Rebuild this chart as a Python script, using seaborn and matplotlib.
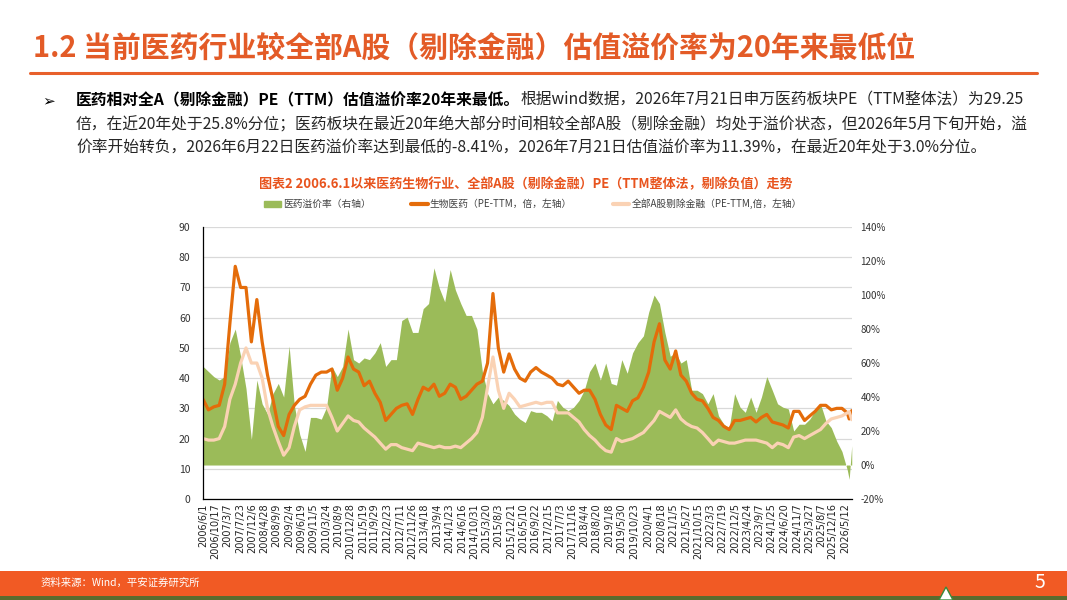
import pandas as pd
import seaborn as sns
import matplotlib.pyplot as plt
from matplotlib.lines import Line2D
from matplotlib.patches import Patch, Rectangle, Polygon
from matplotlib.ticker import FuncFormatter

sns.set_style("white")
plt.rcParams['font.family'] = ['Noto Sans CJK SC', 'DejaVu Sans']
plt.rcParams['axes.unicode_minus'] = False

# sample dates: every two months from 2006/6/1, plus the last two trading days mentioned in the text
dates = list(pd.date_range('2006-06-01', periods=121, freq='2MS')) + \
    [pd.Timestamp('2026-06-22'), pd.Timestamp('2026-07-21')]

# 生物医药 PE-TTM (left axis)
bio_pe = [33, 29.5, 30.5, 31, 38, 58, 77, 70, 70, 52,
          66, 52, 41, 33, 24, 21, 28, 31, 33, 34,
          38, 41, 42, 42, 43, 36, 40, 47, 43, 42,
          37.5, 39, 35, 32, 26, 28, 30, 31, 31.5, 28,
          33, 37, 36, 38, 34, 35, 38, 37, 33, 34,
          36, 38, 39, 45, 68, 50, 42, 48, 43, 40,
          39, 42, 43.5, 42, 41, 40, 38, 37.5, 39, 37,
          35, 36, 36, 33, 28, 24.5, 23, 31, 30, 29,
          32.5, 33.5, 37, 42, 52, 58, 46, 43, 49, 41,
          39, 35, 33, 32.5, 30, 27, 26, 24, 23, 26,
          26, 26.5, 27, 25.5, 27, 28, 25.5, 25, 24.5, 23.5,
          29, 29, 26, 27.5, 29, 31, 31, 29.5, 30, 30, 28.5,
          26.5, 29.25]

# 全部A股剔除金融 PE-TTM (left axis)
alla_pe = [20, 19.5, 19.5, 20, 24, 33, 38, 45, 50, 45,
           45, 40, 30, 24, 19, 14.5, 17, 24, 29.5, 30.5,
           31, 31, 31, 31, 27, 22.5, 25, 27.5, 26, 25.5,
           23.5, 22, 20.5, 18.5, 16.5, 18, 18, 17, 16.5, 16,
           18.5, 18, 17.5, 17, 17.5, 17, 17, 17.5, 17, 18.5,
           20, 22, 27, 37, 47, 36, 30, 35, 33, 30.5,
           31, 31.5, 32, 31.5, 32, 32, 28.5, 28.5, 28.5, 27,
           25.5, 23, 21, 19.5, 17.5, 16, 15.5, 20, 19, 19.5,
           20, 21, 22, 24, 26, 29, 28, 27, 29.5, 26.5,
           25, 24, 23.5, 22, 20, 18, 19.5, 19, 18.5, 18.5,
           19, 19.5, 19.5, 19.5, 19, 18.5, 17, 18.5, 18, 17,
           20.5, 21, 20, 21, 22, 23, 25, 26.5, 27, 27.5, 28.5,
           28.9, 26.26]

# 医药溢价率 % (right axis)
premium = [58, 55, 52, 50, 52, 72, 80, 64, 45, 15,
           50, 36, 30, 42, 48, 40, 70, 35, 18, 8,
           28, 28, 27, 34, 58, 52, 58, 80, 62, 60,
           63, 62, 66, 72, 58, 62, 62, 85, 87, 78,
           78, 92, 95, 116, 104, 96, 115, 103, 95, 88,
           88, 80, 55, 42, 36, 40, 38, 35, 30, 27,
           25, 32, 31, 31, 29, 26, 38, 34, 32, 34,
           38, 44, 55, 60, 50, 60, 48, 47, 62, 54,
           66, 72, 76, 90, 100, 95, 78, 64, 66, 60,
           62, 44, 44, 42, 36, 42, 29, 24, 22, 42,
           34, 31, 40, 31, 40, 52, 44, 36, 34, 33,
           20, 24, 24, 27, 32, 36, 26, 22, 14, 8, -3,
           -8.41, 11.39]

tick_labels = ['2006/6/1', '2006/10/17', '2007/3/7', '2007/7/23', '2007/12/6', '2008/4/28',
               '2008/9/9', '2009/2/4', '2009/6/19', '2009/11/5', '2010/3/24', '2010/8/9',
               '2010/12/28', '2011/5/19', '2011/9/29', '2012/2/23', '2012/7/11', '2012/11/26',
               '2013/4/18', '2013/9/4', '2014/1/23', '2014/6/16', '2014/10/31', '2015/3/20',
               '2015/8/3', '2015/12/21', '2016/5/10', '2016/9/22', '2017/2/15', '2017/7/3',
               '2017/11/16', '2018/4/4', '2018/8/20', '2019/1/8', '2019/5/30', '2019/10/23',
               '2020/4/1', '2020/8/18', '2021/1/5', '2021/5/27', '2021/10/15', '2022/3/3',
               '2022/7/19', '2022/12/5', '2023/4/24', '2023/9/7', '2024/1/25', '2024/6/20',
               '2024/11/7', '2025/3/27', '2025/8/7', '2025/12/16', '2026/5/12']

df = pd.DataFrame({'date': dates, 'bio': bio_pe, 'alla': alla_pe, 'prem': premium})

GREEN = '#9BBB59'
ORANGE = '#E46C0A'
PEACH = '#FAD2B4'
TITLE_C = '#E35B27'

fig = plt.figure(figsize=(10.67, 6), dpi=100)
ax = fig.add_axes([0.1903, 0.1683, 0.6082, 0.4533])
ax2 = ax.twinx()
ax3 = ax.twinx()

# left axis: grid + labels
ax.set_ylim(0, 90)
ax.set_yticks(range(0, 91, 10))
ax.grid(axis='y', color='#D9D9D9', lw=0.9)
ax.grid(axis='x', visible=False)
for s in ['top', 'right', 'left']:
    ax.spines[s].set_visible(False)
ax.spines['bottom'].set_color('black')
ax.spines['bottom'].set_linewidth(0.9)
ax.tick_params(axis='y', length=0, labelsize=7.5, pad=9, labelcolor='#333333')
ax.set_xticks(pd.to_datetime(tick_labels, format='%Y/%m/%d'))
ax.set_xticklabels(tick_labels, rotation=90, fontsize=7, family='DejaVu Sans', color='#222222')
ax.tick_params(axis='x', direction='in', length=3, width=0.8, color='black', pad=3)
ax.set_xlim(pd.Timestamp('2006-06-01'), pd.Timestamp('2026-07-24'))
ax.set_xlabel('')
ax.set_ylabel('')

# right axis: premium area
ax2.fill_between(df['date'], 0, df['prem'], color=GREEN, lw=0)
ax2.set_ylim(-20, 140)
ax2.set_yticks(range(-20, 141, 20))
ax2.yaxis.set_major_formatter(FuncFormatter(lambda v, p: f'{v:.0f}%'))
ax2.tick_params(axis='y', length=0, labelsize=7, pad=6, labelcolor='#333333')
for s in ax2.spines.values():
    s.set_visible(False)

# top layer: PE lines on left scale
sns.lineplot(data=df, x='date', y='bio', ax=ax3, color=ORANGE, lw=2.3)
sns.lineplot(data=df, x='date', y='alla', ax=ax3, color=PEACH, lw=2.3)
ax3.set_ylim(0, 90)
ax3.set_yticks([])
ax3.set_ylabel('')
for s in ['top', 'right', 'bottom']:
    ax3.spines[s].set_visible(False)
ax3.spines['left'].set_color('black')
ax3.spines['left'].set_linewidth(0.9)

# legend
handles = [Patch(color=GREEN, label='医药溢价率（右轴）'),
           Line2D([], [], color=ORANGE, lw=3, label='生物医药（PE-TTM，倍，左轴）'),
           Line2D([], [], color=PEACH, lw=3, label='全部A股剔除金融（PE-TTM,倍，左轴）')]
leg = fig.legend(handles=handles, loc='center', bbox_to_anchor=(0.4995, 1 - 204 / 600), ncol=3,
                 frameon=False, fontsize=7, handlelength=1.7, handleheight=0.6,
                 columnspacing=4.2, handletextpad=0.2)
for t in leg.get_texts():
    t.set_color('#404040')

# chart caption
fig.text(0.4925, 1 - 184 / 600,
         '图表2 2006.6.1以来医药生物行业、全部A股（剔除金融）PE（TTM整体法，剔除负值）走势',
         ha='center', va='center', color='#E8541E', fontsize=9.4, fontweight='bold')

# slide title and rule
fig.text(33 / 1067, 1 - 48 / 600, '1.2 当前医药行业较全部A股（剔除金融）估值溢价率为20年来最低位',
         ha='left', va='center', color=TITLE_C, fontsize=20.8, fontweight='bold')
fig.add_artist(Line2D([30 / 1067, 1037 / 1067], [1 - 73 / 600] * 2, color='#E8602C', lw=2.2))

# bullet text
TXT = '#262626'
FS = 11.35
fig.text(42 / 1067, 1 - 100 / 600, '➢', ha='left', va='center', fontsize=11, color='black',
         fontweight='bold')
b = fig.text(76 / 1067, 1 - 100 / 600, '医药相对全A（剔除金融）PE（TTM）估值溢价率20年来最低。',
             ha='left', va='center', fontsize=FS, fontweight='bold', color='black')
fig.canvas.draw()
bb = b.get_window_extent()
fig.text(bb.x1 / fig.bbox.width, 1 - 100 / 600,
         '根据wind数据，2026年7月21日申万医药板块PE（TTM整体法）为29.25',
         ha='left', va='center', fontsize=FS, color=TXT)
fig.text(76 / 1067, 1 - 125 / 600,
         '倍，在近20年处于25.8%分位；医药板块在最近20年绝大部分时间相较全部A股（剔除金融）均处于溢价状态，但2026年5月下旬开始，溢',
         ha='left', va='center', fontsize=FS, color=TXT)
fig.text(76 / 1067, 1 - 148 / 600,
         '价率开始转负，2026年6月22日医药溢价率达到最低的-8.41%，2026年7月21日估值溢价率为11.39%，在最近20年处于3.0%分位。',
         ha='left', va='center', fontsize=FS, color=TXT)

# footer band
fig.add_artist(Rectangle((0, 1 - 596 / 600), 1, 25 / 600, transform=fig.transFigure,
                         color='#F15A24', lw=0))
fig.add_artist(Rectangle((0, 0), 1, 4 / 600, transform=fig.transFigure, color='#5A6B2E', lw=0))
fig.add_artist(Polygon([(939 / 1067, 0), (946 / 1067, 13 / 600), (953 / 1067, 0)],
                       closed=True, transform=fig.transFigure, facecolor='white',
                       edgecolor='#3A8A3A', lw=1))
fig.text(41 / 1067, 1 - 583 / 600, '资料来源：Wind，平安证券研究所', ha='left', va='center',
         fontsize=7.5, color='white')
fig.text(1040 / 1067, 1 - 583 / 600, '5', ha='center', va='center', fontsize=14, color='white')

fig.savefig('out.png', dpi=100)
